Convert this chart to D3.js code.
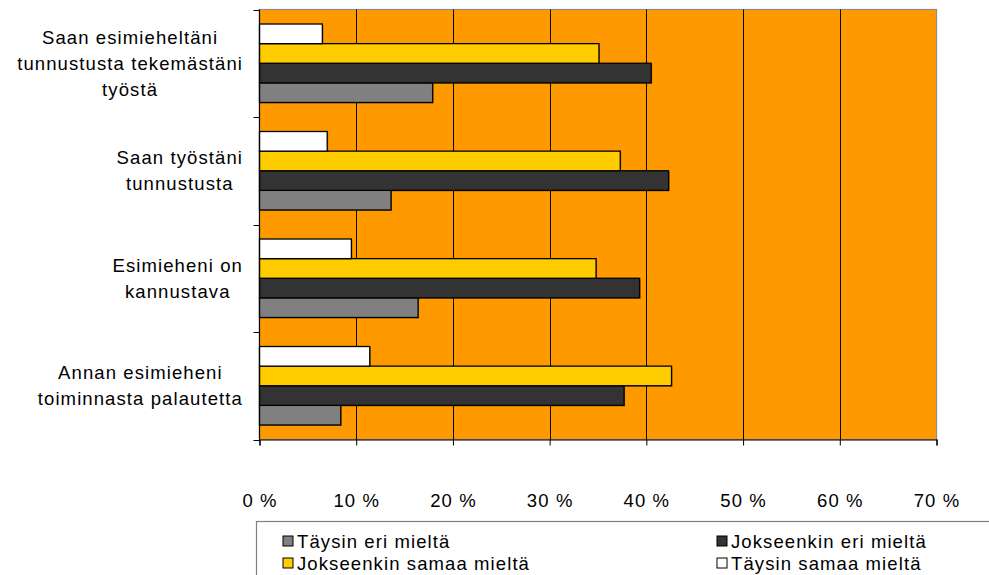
<!DOCTYPE html>
<html>
<head>
<meta charset="utf-8">
<script src="https://cdn.jsdelivr.net/npm/d3@7"></script>
<style>
  body { margin: 0; background: #fff; }
  svg { display: block; font-family: "Liberation Sans", Arial, sans-serif; }
</style>
</head>
<body>
<svg id="chart" width="989" height="575"></svg>
<script>
const categories = [
  "Saan esimieheltäni tunnustusta tekemästäni työstä",
  "Saan työstäni tunnustusta",
  "Esimieheni on kannustava",
  "Annan esimieheni toiminnasta palautetta"
];
const categoryLines = [
  ["Saan esimieheltäni", "tunnustusta tekemästäni", "työstä"],
  ["Saan työstäni", "tunnustusta"],
  ["Esimieheni on", "kannustava"],
  ["Annan esimieheni", "toiminnasta palautetta"]
];
const seriesNames = ["Täysin eri mieltä", "Jokseenkin eri mieltä", "Jokseenkin samaa mieltä", "Täysin samaa mieltä"];
const seriesColors = ["#808080", "#333333", "#FFCC00", "#FFFFFF"];
const taysinEri = [17.9, 13.6, 16.4, 8.4];
const jokseenkinEri = [40.5, 42.3, 39.3, 37.7];
const jokseenkinSamaa = [35.1, 37.3, 34.8, 42.6];
const taysinSamaa = [6.5, 7.0, 9.5, 11.4];
const seriesValues = [taysinEri, jokseenkinEri, jokseenkinSamaa, taysinSamaa];
const xTicks = [0, 10, 20, 30, 40, 50, 60, 70];

const FONT = 18.5;
const LS = 1.1;

const svg = d3.select("#chart");
const plot = { left: 259.5, right: 936.5, top: 9.5, bottom: 439.5 };

const x = d3.scaleLinear().domain([0, 70]).range([plot.left, plot.right]);
const y0 = d3.scaleBand().domain(categories).range([plot.top, plot.bottom]).paddingInner(0).paddingOuter(0);
const seriesOrder = [3, 2, 1, 0];
const y1 = d3.scaleBand().domain(seriesOrder).range([0, y0.bandwidth()]).paddingInner(0).paddingOuter(0.74);

svg.append("rect")
  .attr("x", plot.left).attr("y", plot.top)
  .attr("width", plot.right - plot.left).attr("height", plot.bottom - plot.top)
  .attr("fill", "#FF9900").attr("stroke", "#8c8c8c").attr("stroke-width", 1.2);

svg.append("g").selectAll("line").data(xTicks.slice(1, -1)).join("line")
  .attr("x1", d => Math.round(x(d)) + 0.5).attr("x2", d => Math.round(x(d)) + 0.5)
  .attr("y1", plot.top).attr("y2", plot.bottom)
  .attr("stroke", "#000").attr("stroke-width", 1);

const data = [];
categories.forEach((c, ci) => {
  seriesValues.forEach((vals, si) => data.push({ c, si, v: vals[ci] }));
});
const bars = svg.append("g");
bars.selectAll("rect.sh").data(data).join("rect").attr("class", "sh")
  .attr("x", x(0) + 1)
  .attr("y", d => y0(d.c) + y1(d.si) + 1)
  .attr("width", d => x(d.v) - x(0))
  .attr("height", y1.bandwidth())
  .attr("fill", "rgba(0,0,0,0.35)");
bars.selectAll("rect.b").data(data).join("rect").attr("class", "b")
  .attr("x", x(0))
  .attr("y", d => y0(d.c) + y1(d.si))
  .attr("width", d => x(d.v) - x(0))
  .attr("height", y1.bandwidth())
  .attr("fill", d => seriesColors[d.si])
  .attr("stroke", "#000").attr("stroke-width", 1.3);

const yAxisG = svg.append("g");
yAxisG.append("line").attr("x1", plot.left).attr("x2", plot.left)
  .attr("y1", plot.top).attr("y2", plot.bottom).attr("stroke", "#000").attr("stroke-width", 1.2);
const boundaries = categories.map(c => y0(c)).concat([plot.bottom]);
yAxisG.selectAll("line.t").data(boundaries).join("line").attr("class", "t")
  .attr("x1", plot.left - 6).attr("x2", plot.left)
  .attr("y1", d => Math.round(d) + 0.5).attr("y2", d => Math.round(d) + 0.5)
  .attr("stroke", "#000").attr("stroke-width", 1);

const labelRight = 243;
const lineH = 26;
categories.forEach((c, ci) => {
  const lines = categoryLines[ci];
  const g = svg.append("g");
  const texts = lines.map((l, li) => g.append("text")
    .attr("font-size", FONT).attr("letter-spacing", LS).attr("fill", "#000")
    .attr("text-anchor", "middle")
    .attr("dominant-baseline", "central")
    .attr("y", y0(c) + y0.bandwidth() / 2 + (li - (lines.length - 1) / 2) * lineH)
    .text(l));
  const w = d3.max(texts, t => t.node().getComputedTextLength());
  texts.forEach(t => t.attr("x", labelRight - w / 2));
});

const xAxis = d3.axisBottom(x).tickValues(xTicks).tickFormat(d => d + " %").tickSize(6).tickPadding(48);
const xg = svg.append("g").attr("transform", `translate(0,${plot.bottom})`).call(xAxis);
xg.select(".domain").attr("stroke", "#000").attr("stroke-width", 1.2);
xg.selectAll(".tick line").attr("stroke", "#000");
xg.selectAll(".tick text").attr("font-size", FONT).attr("letter-spacing", LS).attr("fill", "#000")
  .attr("font-family", "Liberation Sans, Arial, sans-serif");

const leg = svg.append("g");
leg.append("rect").attr("x", 256.5).attr("y", 521.5).attr("width", 800).attr("height", 100)
  .attr("fill", "#fff").attr("stroke", "#808080").attr("stroke-width", 1.2);
const legPos = [
  { x: 283, y: 541 }, { x: 717, y: 541 },
  { x: 283, y: 563 }, { x: 717, y: 563 }
];
seriesNames.forEach((n, i) => {
  const p = legPos[i];
  leg.append("rect").attr("x", p.x).attr("y", p.y - 5).attr("width", 10).attr("height", 10)
    .attr("fill", seriesColors[i]).attr("stroke", "#000").attr("stroke-width", 1);
  leg.append("text").attr("x", p.x + 14).attr("y", p.y)
    .attr("dominant-baseline", "central").attr("font-size", FONT).attr("letter-spacing", LS)
    .attr("fill", "#000").text(n);
});
</script>
</body>
</html>
